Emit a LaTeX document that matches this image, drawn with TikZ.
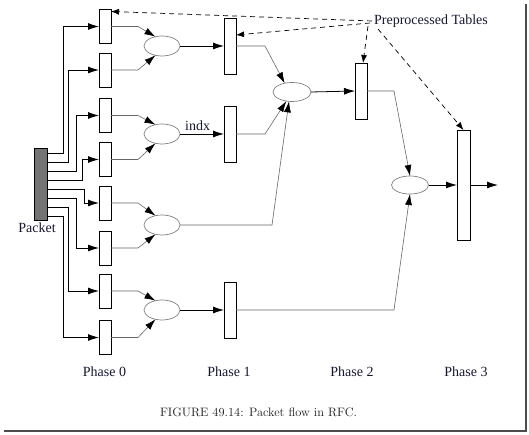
\documentclass[tikz,border=0pt]{standalone}
\usepackage{fontspec}
\setmainfont{Liberation Serif}
\newfontfamily\lmfont{lmroman10-regular.otf}
\usetikzlibrary{arrows.meta,shapes.geometric}
\definecolor{labelc}{RGB}{22,22,48}
\begin{document}
\begin{tikzpicture}[x=1pt,y=-1pt,
  pbox/.style={draw=black,line width=0.8pt,fill=white,rectangle,minimum width=12pt,inner sep=0pt,outer sep=0pt},
  oval/.style={draw=black!50,line width=0.7pt,ellipse,inner sep=0pt,outer sep=0pt},
  arw/.style={draw=black,line width=0.8pt,-{Latex[length=11pt,width=7pt]}},
  garw/.style={draw=black!60,line width=0.6pt,-{Latex[length=11pt,width=7pt,color=black]}},
  darw/.style={draw=black,line width=0.7pt,dash pattern=on 5pt off 4pt,-{Latex[length=8pt,width=6pt]}},
  lbl/.style={font=\fontsize{14}{16}\selectfont,text=labelc,inner sep=0pt}
]
\useasboundingbox (0,0) rectangle (529,435);
% screenshot shadow frame
\draw[black!70,line width=2.5pt] (526,4) -- (526,431) -- (4,431);

% packet
\node[pbox,fill=black!55,minimum width=13pt,minimum height=72pt] (pk) at (40.5,184) {};
\node[lbl] (pkl) at (37,228) {Packet};

% phase 0 boxes
\foreach \i/\y in {1/26.5,2/70,3/115.5,4/159.5,5/203,6/248,7/291,8/337.5}
  \node[pbox,minimum height=34pt] (b\i) at (105,\y) {};

% phase 0 ellipses
\foreach \i/\y in {1/46,2/134,3/225,4/310}
  \node[oval,minimum width=36pt,minimum height=20pt] (e\i) at (162,\y) {};

% phase 1 boxes
\node[pbox,minimum height=56pt] (q1) at (230,46) {};
\node[pbox,minimum height=56pt] (q2) at (230,134) {};
\node[pbox,minimum height=56pt] (q3) at (230,310) {};

% phase 2
\node[oval,minimum width=38pt,minimum height=19pt] (f1) at (292,92) {};
\node[pbox,minimum height=56pt] (r1) at (361,91) {};

% phase 3
\node[oval,minimum width=37pt,minimum height=18pt] (g1) at (410,185) {};
\node[pbox,minimum width=13pt,minimum height=110pt] (s1) at (463.5,185) {};
\coordinate (out) at (498,185);

% packet fan-out
\foreach \i/\dy/\dx in {1/31/16, 2/22/21, 3/13/29, 4/4/35, 5/-5/37, 6/-14/29, 7/-23/21, 8/-32/16}
  \draw[arw] ([yshift=\dy pt]pk.east) -- ++(\dx,0) |- (b\i.west);

% phase 0 boxes to ellipses
\foreach \i/\e/\a in {1/e1/125, 2/e1/235, 3/e2/125, 4/e2/235, 5/e3/125, 6/e3/235, 7/e4/125, 8/e4/235}
  \draw[garw] (b\i.east) -- ++(27,0) -- (\e.\a);

% ellipses to phase 1
\draw[arw] (e1.east) -- (q1.west);
\draw[arw] (e2.east) -- node[lbl,above=3pt,pos=0.4]{indx} (q2.west);
\draw[arw] (e4.east) -- (q3.west);
\draw[garw] (e3.east) -- ++(92,0) -- (f1.252);

% phase 1 to phase 2
\draw[garw] (q1.east) -- ++(29,0) -- (f1.130);
\draw[garw] (q2.east) -- ++(29,0) -- (f1.238);
\draw[arw] (f1.east) -- (r1.west);

% to phase 3
\draw[garw] (r1.east) -- ++(27,0) -- (g1.north);
\draw[garw] (q3.east) -- ++(158,0) -- (g1.south);
\draw[arw] (g1.east) -- (s1.west);
\draw[arw] (s1.east) -- (out);

% preprocessed tables
\node[lbl] (tbl) at (431,21) {Preprocessed Tables};
\coordinate (d1) at (372,21);
\coordinate (d2) at (370,23);
\coordinate (d3) at (368,26);
\coordinate (d4) at (378,29);
\draw[darw] (d1) -- ([yshift=-2pt]b1.north east);
\draw[darw] (d2) -- ([yshift=-17pt]q1.north east);
\draw[darw] (d3) -- ([xshift=2pt]r1.north);
\draw[darw] (d4) -- (s1.north);

% phase labels
\node[lbl] (ph0) at (104.5,372) {Phase 0};
\node[lbl] (ph1) at (229,372) {Phase 1};
\node[lbl] (ph2) at (352,372) {Phase 2};
\node[lbl] (ph3) at (466,372) {Phase 3};

% caption
\node[inner sep=0pt,text=black!85,font=\lmfont\fontsize{12.2}{14}\selectfont] (cap) at (258.5,412) {FIGURE 49.14: Packet flow in RFC.};
\end{tikzpicture}
\end{document}
